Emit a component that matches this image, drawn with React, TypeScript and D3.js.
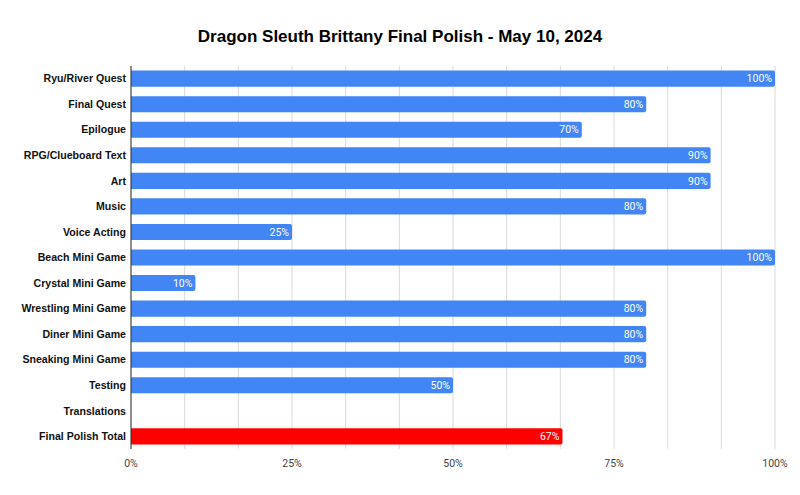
import React from "react";
import * as d3 from "d3";

const categories = [
  "Ryu/River Quest",
  "Final Quest",
  "Epilogue",
  "RPG/Clueboard Text",
  "Art",
  "Music",
  "Voice Acting",
  "Beach Mini Game",
  "Crystal Mini Game",
  "Wrestling Mini Game",
  "Diner Mini Game",
  "Sneaking Mini Game",
  "Testing",
  "Translations",
  "Final Polish Total",
];
const values = [100, 80, 70, 90, 90, 80, 25, 100, 10, 80, 80, 80, 50, 0, 67];
const tickValues = [0, 25, 50, 75, 100];
const title = "Dragon Sleuth Brittany Final Polish - May 10, 2024";

const W = 800;
const H = 495;
const margin = { left: 131, right: 25, top: 66, bottom: 46 };

export default function App() {
  const x = d3.scaleLinear().domain([0, 100]).range([margin.left, W - margin.right]);
  const y = d3
    .scaleBand<string>()
    .domain(categories)
    .range([margin.top, H - margin.bottom])
    .paddingInner(0.37)
    .paddingOuter(0.18);
  const grid = d3.range(0, 13).map((i) => (i * 100) / 12);
  const font = "'Liberation Sans', Arial, sans-serif";
  const barPath = (x0: number, x1: number, y0: number, h: number, r: number) => {
    const w = x1 - x0;
    if (w <= 0) return "";
    const rr = Math.min(r, w);
    return `M${x0},${y0}H${x1 - rr}Q${x1},${y0} ${x1},${y0 + rr}V${y0 + h - rr}Q${x1},${y0 + h} ${x1 - rr},${y0 + h}H${x0}Z`;
  };
  return (
    <svg width={W} height={H} style={{ position: "absolute", left: 0, top: 0, background: "#fff" }}>
      <rect width={W} height={H} fill="#fff" />
      <text x={400} y={42} textAnchor="middle" fontFamily={font} fontWeight="bold" fontSize={17} fill="#000">
        {title}
      </text>
      {grid.map((g, i) => (
        <line key={i} x1={x(g)} x2={x(g)} y1={margin.top} y2={H - margin.bottom} stroke="#d9d9d9" strokeWidth={1} />
      ))}
      {categories.map((c, i) => {
        const y0 = y(c)!;
        const h = y.bandwidth();
        const v = values[i];
        const color = c === "Final Polish Total" ? "#ff0000" : "#4285f4";
        return (
          <g key={c}>
            <text
              x={margin.left - 5}
              y={y0 + h / 2}
              dy="0.35em"
              textAnchor="end"
              fontFamily={font}
              fontWeight="bold"
              fontSize={10.6}
              fill="#111"
            >
              {c}
            </text>
            {v > 0 && <path d={barPath(x(0), x(v), y0, h, 2)} fill={color} />}
            {v > 0 && (
              <text
                x={x(v) - 3}
                y={y0 + h / 2}
                dy="0.35em"
                textAnchor="end"
                fontFamily="Roboto, 'Noto Sans', sans-serif"
                fontSize={10.5}
                fill="#fff"
              >
                {v}%
              </text>
            )}
          </g>
        );
      })}
      <line x1={x(0)} x2={x(0)} y1={margin.top} y2={H - margin.bottom} stroke="#333" strokeWidth={1} />
      {tickValues.map((t) => (
        <text key={t} x={x(t)} y={H - margin.bottom + 18} textAnchor="middle" fontFamily="Roboto, 'Noto Sans', sans-serif" fontSize={10.5} fill="#444">
          {t}%
        </text>
      ))}
    </svg>
  );
}
